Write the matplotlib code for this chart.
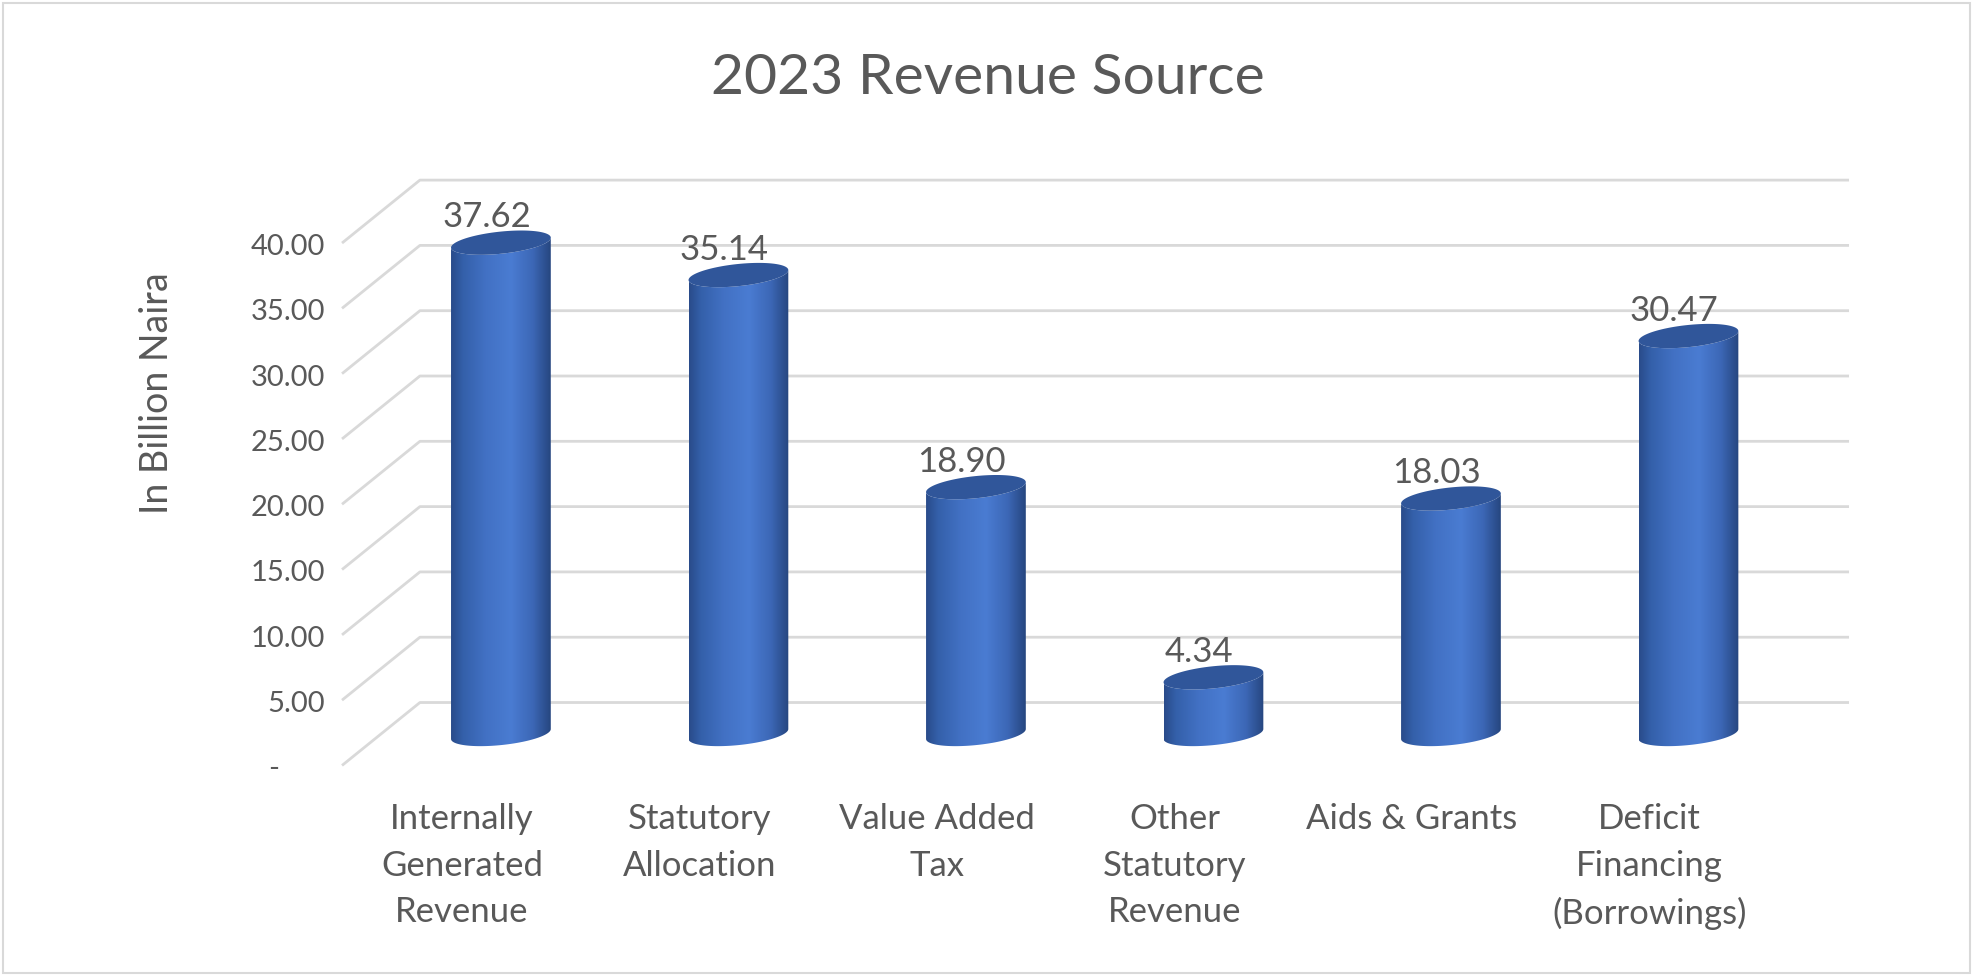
import numpy as np
import matplotlib
matplotlib.use('Agg')
import matplotlib.pyplot as plt
from matplotlib.patches import Polygon, Rectangle
from matplotlib.colors import LinearSegmentedColormap

# data
categories = ['Internally\nGenerated\nRevenue', 'Statutory\nAllocation', 'Value Added\nTax',
              'Other\nStatutory\nRevenue', 'Aids & Grants', 'Deficit\nFinancing\n(Borrowings)']
values = [37.62, 35.14, 18.90, 4.34, 18.03, 30.47]
yticks = [0, 5, 10, 15, 20, 25, 30, 35, 40]
ytick_labels = ['-', '5.00', '10.00', '15.00', '20.00', '25.00', '30.00', '35.00', '40.00']

plt.rcParams['font.family'] = ['Lato', 'DejaVu Sans']
TXT = '#595959'
GRID = '#d9d9d9'
TOP = '#30569a'

fig = plt.figure(figsize=(19.73, 9.76), dpi=100)
ax = fig.add_axes([0, 0, 1, 1])
ax.axis('off')

# half depth of the fake 3d box, in data units
dx, dy = 0.164, 2.41
# cylinder radius, ellipse half height, tilt of ellipse
a, b, s = 0.21, 0.85, 0.38

wall_left = -0.341
wall_right = len(values) - 0.324
for v in yticks:
    ax.plot([wall_left - 2 * dx, wall_left, wall_right], [v - dy, v + dy, v + dy],
            color=GRID, lw=2.0, zorder=1, solid_capstyle='butt')
    if v == 0:
        ax.text(wall_left - 2 * dx - 0.29, v - dy - 0.3, ytick_labels[0], ha='center', va='center',
                fontsize=21, color=TXT)
    else:
        ax.text(wall_left - 2 * dx - 0.07, v - dy - 0.3, ytick_labels[yticks.index(v)],
                ha='right', va='center', fontsize=21, color=TXT)

cmap = LinearSegmentedColormap.from_list('cyl', [
    (0.0, '#294b8a'), (0.12, '#3460aa'), (0.35, '#4271c4'), (0.6, '#4a7cd2'),
    (0.82, '#3c67b6'), (1.0, '#26467f')])
grad = np.linspace(0, 1, 256).reshape(1, -1)
t_front = np.linspace(np.pi, 2 * np.pi, 80)
t_all = np.linspace(0, 2 * np.pi, 160)


def ellipse(xc, yc, t):
    return xc + a * np.cos(t), yc + b * np.sin(t) + s * np.cos(t)


for i, v in enumerate(values):
    bx, by = ellipse(i, 0, t_front)
    tx, ty = ellipse(i, v, t_front[::-1])
    body = Polygon(np.column_stack([np.r_[bx, tx], np.r_[by, ty]]), closed=True,
                   fc='none', ec='none')
    ax.add_patch(body)
    im = ax.imshow(grad, cmap=cmap, extent=[i - a, i + a, -b - s - 1, v + b + s + 1],
                   aspect='auto', zorder=2, interpolation='bilinear')
    im.set_clip_path(body)
    ex, ey = ellipse(i, v, t_all)
    ax.fill(ex, ey, color=TOP, zorder=3, lw=0)
    ax.text(i - 0.06, v + 1.95, f'{v:.2f}', ha='center', va='center', fontsize=25,
            color=TXT, zorder=4)
    ax.text(i - dx, -5.3, categories[i], ha='center', va='top', fontsize=25,
            color=TXT, linespacing=1.55)

ax.set_xlim(-2.109, 6.198)
ax.set_ylim(-18.53, 56.2)

fig.text(0.5008, 1 - 79 / 976, '2023 Revenue Source', ha='center', va='center',
         fontsize=41, color=TXT)
fig.text(157 / 1973, 1 - 393 / 976, 'In Billion Naira', ha='center', va='center',
         rotation=90, fontsize=27, color=TXT)
fig.add_artist(Rectangle((0.0015, 0.003), 0.997, 0.994, transform=fig.transFigure,
                         fill=False, ec=GRID, lw=1.5))

fig.savefig('out.png', dpi=100)
